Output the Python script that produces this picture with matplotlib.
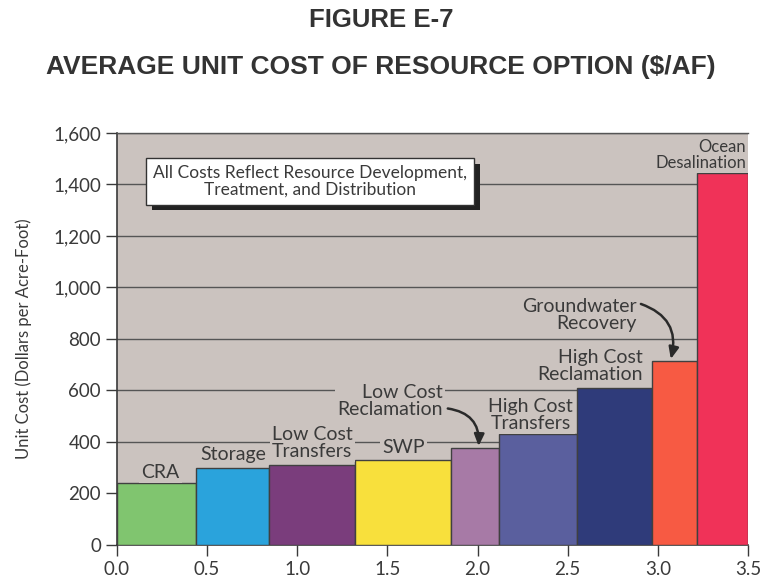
import matplotlib
matplotlib.use("Agg")
import matplotlib.pyplot as plt
from matplotlib import patheffects as pe

# Data
categories = ["CRA", "Storage", "Low Cost\nTransfers", "SWP", "Low Cost\nReclamation",
              "High Cost\nTransfers", "High Cost\nReclamation", "Groundwater\nRecovery",
              "Ocean\nDesalination"]
cum_supply = [0.0, 0.44, 0.844, 1.322, 1.85, 2.12, 2.55, 2.967, 3.217, 3.5]
unit_cost = [240, 300, 310, 330, 378, 432, 610, 715, 1445]
colors = ["#80c56f", "#2aa3dc", "#7a3d7c", "#f8e03c", "#a77aa6", "#5a5f9e",
          "#2f3b7a", "#f75a43", "#f03258"]
yticks = [0, 200, 400, 600, 800, 1000, 1200, 1400, 1600]
xticks = [0.0, 0.5, 1.0, 1.5, 2.0, 2.5, 3.0, 3.5]

BG = "#cbc3bf"
DARK = "#3a3a3a"
FONT = "Lato"

fig = plt.figure(figsize=(7.62, 5.78), dpi=100)
fig.patch.set_facecolor("white")
ax = fig.add_axes([0.1535, 0.0571, 0.8281, 0.7129])
ax.set_facecolor(BG)

lefts = cum_supply[:-1]
widths = [cum_supply[i + 1] - cum_supply[i] for i in range(len(unit_cost))]
ax.bar(lefts, unit_cost, width=widths, align="edge", color=colors,
       edgecolor="#404040", linewidth=1.0, zorder=3)

ax.set_xlim(0, 3.5)
ax.set_ylim(0, 1600)
ax.set_yticks(yticks)
ax.set_yticklabels([f"{v:,}" for v in yticks])
ax.set_xticks(xticks)
ax.set_xticklabels([f"{v:.1f}" for v in xticks])
ax.tick_params(axis="both", direction="out", length=8, width=1, color=DARK,
               labelsize=13.5, labelcolor=DARK)
for lab in ax.get_xticklabels() + ax.get_yticklabels():
    lab.set_fontfamily(FONT)
ax.set_axisbelow(True)
ax.yaxis.grid(True, color="#555555", linewidth=1.0, zorder=0)
for s in ["left", "bottom"]:
    ax.spines[s].set_color(DARK)
    ax.spines[s].set_linewidth(1.2)
ax.spines["top"].set_color("#555555")
ax.spines["top"].set_linewidth(1.0)
ax.spines["right"].set_visible(False)

ax.set_ylabel("Unit Cost (Dollars per Acre-Foot)", fontsize=12, color=DARK,
              fontfamily=FONT)
ax.yaxis.set_label_coords(-0.135, 0.5)

# Titles
fig.text(0.5, 0.965, "FIGURE E-7", ha="center", va="center", fontsize=18.5,
         fontweight="bold", color="#333333", fontfamily="Liberation Sans")
fig.text(0.5, 0.884, "AVERAGE UNIT COST OF RESOURCE OPTION ($/AF)", ha="center",
         va="center", fontsize=19, fontweight="bold", color="#333333",
         fontfamily="Liberation Sans")

# label positions (data coords)
label_pos = [
    (0.24, 283, "center", 14),
    (0.644, 350, "center", 14),
    (1.083, 396, "center", 14),
    (1.59, 377, "center", 14),
    (1.806, 559, "right", 14),
    (2.294, 505, "center", 14),
    (2.917, 695, "right", 14),
    (2.883, 893, "right", 14),
    (3.49, 1515, "right", 12),
]
for (x, y, ha, fs), name in zip(label_pos, categories):
    ax.text(x, y, name, ha=ha, va="center", multialignment=ha, linespacing=0.95,
            fontsize=fs, color=DARK, fontfamily=FONT, zorder=5,
            bbox=dict(facecolor=BG, edgecolor="none", pad=1.5))

# curved arrows
arrow_kw = dict(arrowstyle="-|>,head_length=0.7,head_width=0.3", color="#2a2a2a",
                lw=1.8, shrinkA=0, shrinkB=0)
ax.annotate("", xy=(2.006, 384), xytext=(1.835, 530),
            arrowprops=dict(connectionstyle="arc3,rad=-0.45", **arrow_kw), zorder=6)
ax.annotate("", xy=(3.072, 722), xytext=(2.906, 936),
            arrowprops=dict(connectionstyle="arc3,rad=-0.45", **arrow_kw), zorder=6)

# note box
t = ax.text(1.072, 1412, "All Costs Reflect Resource Development,\nTreatment, and Distribution",
            ha="center", va="center", fontsize=12.5, color=DARK, fontfamily=FONT,
            multialignment="center", linespacing=1.05, zorder=7,
            bbox=dict(facecolor="white", edgecolor="#333333", linewidth=1.0,
                      boxstyle="square,pad=0.4"))
t.get_bbox_patch().set_path_effects([
    pe.SimplePatchShadow(offset=(4, -4), shadow_rgbFace="#222222", alpha=1.0),
    pe.Normal()])

fig.savefig("out.png", dpi=100, facecolor="white")
